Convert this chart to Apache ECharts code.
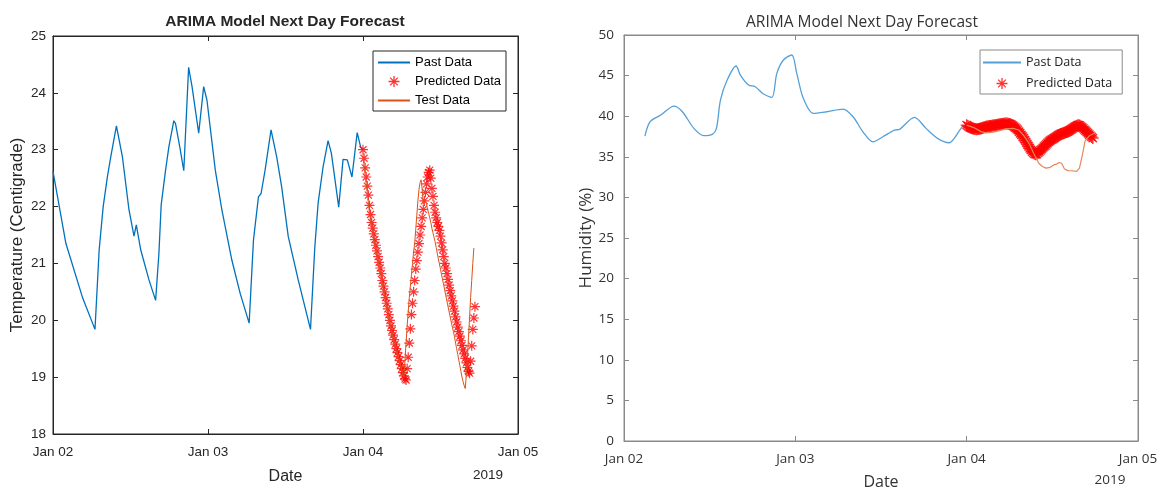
<!DOCTYPE html>
<html><head><meta charset="utf-8">
<script src="https://cdn.jsdelivr.net/npm/echarts/dist/echarts.min.js"></script>
<style>
html,body{margin:0;padding:0;background:#fff;width:1163px;height:488px;overflow:hidden}
#c1{position:absolute;left:0;top:0;width:575px;height:488px}
#c2{position:absolute;left:575px;top:0;width:588px;height:488px}
</style>
</head><body><div id="c1"></div><div id="c2"></div>
<script>
// ---------- shared labels ----------
const xTickLabels = ['Jan 02', 'Jan 03', 'Jan 04', 'Jan 05'];
const yearLabel = '2019';
const chartTitle = 'ARIMA Model Next Day Forecast';
const seriesNames = ['Past Data', 'Predicted Data', 'Test Data'];

// ---------- temperature chart (hours since Jan 02 00:00) ----------
const pastTempHours = [0, 2.0, 4.6, 6.5, 7.15, 7.77, 8.43, 8.95, 9.82, 10.74, 11.77, 12.54, 12.9, 13.58, 14.86, 15.89, 16.4, 16.75, 17.43, 17.94, 18.71, 18.97, 19.63, 20.25, 21.0, 21.53, 22.56, 23.33, 23.84, 25.13, 26.15, 27.69, 28.99, 30.37, 31.04, 31.81, 32.22, 32.84, 33.76, 34.63, 35.4, 36.43, 37.97, 39.87, 40.54, 41.05, 41.82, 42.59, 43.1, 44.24, 44.91, 45.57, 46.29, 47.1, 47.63, 48];
const pastTemp = [22.62, 21.35, 20.39, 19.84, 21.24, 22.0, 22.53, 22.88, 23.42, 22.88, 21.94, 21.48, 21.68, 21.24, 20.71, 20.35, 21.18, 22.03, 22.64, 23.05, 23.51, 23.46, 23.05, 22.63, 24.45, 24.11, 23.29, 24.11, 23.87, 22.64, 21.94, 21.06, 20.47, 19.95, 21.41, 22.17, 22.23, 22.64, 23.35, 22.88, 22.35, 21.47, 20.71, 19.84, 21.29, 22.06, 22.7, 23.16, 22.94, 21.99, 22.83, 22.82, 22.52, 23.3, 23.05, 23.0];

const forecastStartHour = 48;
const forecastStepHours = 1 / 6; // 10-minute samples

const predTemp = [23.00, 22.85, 22.68, 22.52, 22.36, 22.20, 22.02, 21.86, 21.72, 21.62,
  21.52, 21.42, 21.32, 21.22, 21.12, 21.02, 20.92, 20.82, 20.70, 20.60,
  20.50, 20.40, 20.30, 20.20, 20.10, 20.00, 19.90, 19.82, 19.74, 19.66,
  19.58, 19.50, 19.43, 19.36, 19.29, 19.22, 19.15, 19.08, 19.02, 18.97,
  18.95,
  19.15, 19.35, 19.60, 19.85, 20.10, 20.30, 20.50, 20.70, 20.90, 21.05,
  21.20, 21.35, 21.50, 21.65, 21.80, 21.95, 22.10, 22.25, 22.40, 22.52,
  22.60, 22.64,
  22.50, 22.32, 22.18, 22.02, 21.90, 21.80, 21.72, 21.65, 21.58, 21.48,
  21.36, 21.24, 21.12, 21.00, 20.92, 20.82, 20.72, 20.62, 20.52, 20.43,
  20.34, 20.25, 20.16, 20.06, 19.97, 19.88, 19.80, 19.72, 19.64, 19.56,
  19.48, 19.41, 19.33, 19.25, 19.17, 19.10, 19.07,
  19.28, 19.55, 19.84, 20.04, 20.24];

const testTemp = [22.90, 22.72, 22.56, 22.40, 22.24, 22.06, 21.90, 21.76, 21.64, 21.54,
  21.44, 21.34, 21.24, 21.14, 21.04, 20.94, 20.84, 20.72, 20.62, 20.52,
  20.42, 20.32, 20.22, 20.12, 20.02, 19.92, 19.84, 19.76, 19.68, 19.60,
  19.52, 19.45, 19.38, 19.31, 19.24, 19.17, 19.10, 19.04, 19.00,
  19.30, 19.60, 19.90, 20.15, 20.40, 20.60, 20.80, 21.00, 21.20, 21.35,
  21.60, 21.85, 22.10, 22.30, 22.42, 22.47, 22.30, 22.05, 22.12, 22.15,
  22.05, 21.95, 21.88, 21.80,
  21.72, 21.62, 21.54, 21.46, 21.38, 21.28, 21.18, 21.08, 20.99, 20.90,
  20.80, 20.71, 20.62, 20.52, 20.43, 20.33, 20.24, 20.15, 20.06, 19.97,
  19.88, 19.80, 19.71, 19.60, 19.50, 19.40, 19.30, 19.20, 19.10, 19.00,
  18.92, 18.85, 18.80,
  19.05, 19.35, 19.70, 20.05, 20.40, 20.70, 21.00, 21.27];

// ---------- humidity chart ----------
const pastHumHours = [2.93, 3.66, 5.15, 7.0, 8.18, 9.79, 11.19, 12.36, 12.95, 13.51, 14.45, 15.7, 16.3, 17.45, 18.39, 19.54, 20.71, 21.41, 22.33, 23.5, 24.2, 25.12, 26.5, 28.38, 30.69, 32.08, 33.47, 34.87, 36.26, 37.89, 38.59, 40.68, 42.31, 43.92, 45.55, 46.25, 47.4, 48.0];
const pastHum = [37.55, 39.32, 40.14, 41.25, 40.55, 38.5, 37.6, 37.76, 38.5, 41.99, 44.45, 46.18, 45.07, 43.84, 43.63, 42.73, 42.32, 45.28, 46.92, 47.54, 45.28, 42.2, 40.35, 40.55, 40.88, 39.93, 38.08, 36.85, 37.47, 38.29, 38.38, 39.86, 38.5, 37.27, 36.73, 37.27, 38.7, 38.9];

const predHum = [38.9, 38.8, 38.7, 38.6, 38.55, 38.5, 38.45, 38.42, 38.4, 38.4,
  38.42, 38.45, 38.5, 38.55, 38.6, 38.65, 38.7, 38.72, 38.75, 38.78,
  38.8, 38.82, 38.85, 38.88, 38.9, 38.92, 38.95, 38.98, 39.0, 39.03,
  39.05, 39.08, 39.1, 39.1, 39.1, 39.08, 39.05, 39.0, 38.92, 38.82,
  38.7, 38.58, 38.45, 38.3, 38.1, 37.9, 37.7, 37.5, 37.3, 37.05,
  36.8, 36.55, 36.3, 36.05, 35.85, 35.65, 35.5, 35.38, 35.3, 35.35,
  35.5, 35.65, 35.8, 35.95, 36.1, 36.25, 36.4, 36.55, 36.7, 36.85,
  36.97, 37.08, 37.15, 37.25, 37.35, 37.45, 37.55, 37.65, 37.72, 37.8,
  37.85, 37.9, 37.95, 38.0, 38.05, 38.1, 38.2, 38.3, 38.4, 38.5,
  38.6, 38.7, 38.78, 38.85, 38.88, 38.85, 38.75, 38.62, 38.5, 38.35,
  38.2, 38.05, 37.9, 37.75, 37.6, 37.45, 37.3];

const testHumHours = [48.0, 49.0, 50.0, 50.7, 51.5, 52.5, 53.5, 54.5, 55.3, 56.0, 56.7, 57.4, 58.1, 58.6, 59.1, 59.7, 60.2, 60.6, 60.95, 61.3, 61.5, 61.7, 62.2, 62.7, 63.4, 63.8, 64.2, 64.6, 65.2, 65.9];
const testHum = [38.9, 38.6, 38.1, 37.95, 38.0, 38.2, 38.45, 38.5, 38.3, 37.6, 36.7, 35.4, 34.2, 33.8, 33.6, 33.7, 34.0, 34.1, 34.3, 34.2, 34.35, 33.5, 33.3, 33.28, 33.2, 33.6, 35.2, 37.0, 37.6, 37.9];

// ---------- helpers ----------
const zip = (xs, ys) => xs.map((x, i) => [x, ys[i]]);
const stepped = (start, step, ys) => ys.map((y, i) => [start + i * step, y]);
const STAR = 'path://M44 0L56 0L56 100L44 100Z M0 44L100 44L100 56L0 56Z M10.8 19.2L19.2 10.8L89.2 80.8L80.8 89.2Z M80.8 10.8L89.2 19.2L19.2 89.2L10.8 80.8Z';
const xFmt = v => xTickLabels[Math.round(v / 24)] || '';

function makeOption(cfg) {
  const axisLine = { show: true, onZero: false, lineStyle: { color: cfg.axisColor, width: 1 } };
  const tick = { show: true, inside: true, length: 5, lineStyle: { color: cfg.axisColor } };
  const xBase = { type: 'value', min: 0, max: 72, interval: 24, splitLine: { show: false }, axisLine, axisTick: tick };
  const yBase = { type: 'value', min: cfg.yMin, max: cfg.yMax, interval: cfg.yInterval, splitLine: { show: false }, axisLine, axisTick: tick };
  const lineItem = n => ({ name: n, itemStyle: { opacity: 0 } });
  return {
    animation: false,
    backgroundColor: '#fff',
    textStyle: { fontFamily: cfg.font },
    grid: { left: cfg.grid.left, top: cfg.grid.top, width: cfg.grid.width, height: cfg.grid.height, containLabel: false, outerBoundsMode: 'none',
      show: true, borderColor: cfg.axisColor, borderWidth: 1, backgroundColor: 'transparent' },
    xAxis: [
      Object.assign({}, xBase, {
        position: 'bottom',
        name: 'Date', nameLocation: 'middle', nameGap: cfg.xNameGap, nameMoveOverlap: false,
        nameTextStyle: { fontFamily: cfg.font, fontSize: cfg.nameSize, color: cfg.textColor },
        axisLabel: { show: true, formatter: xFmt, margin: cfg.xLabelMargin, fontFamily: cfg.font, fontSize: cfg.tickSize, color: cfg.textColor, showMinLabel: true, showMaxLabel: true, hideOverlap: false }
      }),
      Object.assign({}, xBase, { position: 'top', axisLabel: { show: false } })
    ],
    yAxis: [
      Object.assign({}, yBase, {
        position: 'left',
        name: cfg.yName, nameLocation: 'middle', nameGap: cfg.yNameGap, nameMoveOverlap: false,
        nameTextStyle: { fontFamily: cfg.font, fontSize: cfg.yNameSize, color: cfg.textColor },
        axisLabel: { show: true, margin: cfg.yLabelMargin, fontFamily: cfg.font, fontSize: cfg.tickSize, color: cfg.textColor, showMinLabel: true, showMaxLabel: true }
      }),
      Object.assign({}, yBase, { position: 'right', axisLabel: { show: false } })
    ],
    legend: {
      orient: 'vertical', left: cfg.legend.left, top: cfg.legend.top, padding: cfg.legend.padding,
      itemWidth: cfg.legend.itemWidth, itemHeight: 11, itemGap: cfg.legend.itemGap,
      backgroundColor: '#fff', borderColor: cfg.legend.borderColor, borderWidth: 1, borderRadius: 0,
      selectedMode: false, symbolKeepAspect: true,
      textStyle: { fontFamily: cfg.font, fontSize: cfg.legend.fontSize, color: cfg.legend.textColor },
      data: cfg.legend.names.map(n => n === seriesNames[1] ? { name: n } : lineItem(n))
    },
    graphic: [
      { type: 'text', x: cfg.title.x, y: cfg.title.y, z: 100, style: { text: chartTitle, fontFamily: cfg.font, fontSize: cfg.title.size, fontWeight: cfg.title.weight, fill: cfg.textColor, textAlign: 'center', textVerticalAlign: 'middle' } },
      { type: 'text', x: cfg.year.x, y: cfg.year.y, z: 100, style: { text: yearLabel, fontFamily: cfg.font, fontSize: cfg.tickSize, fill: cfg.textColor, textAlign: 'center', textVerticalAlign: 'middle' } }
    ],
    series: cfg.series
  };
}

// ---------- left chart ----------
const c1 = echarts.init(document.getElementById('c1'), null, { renderer: 'canvas' });
c1.setOption(makeOption({
  font: '"Liberation Sans", Arial, sans-serif',
  axisColor: '#262626', textColor: '#262626',
  grid: { left: 53, top: 36, width: 465, height: 398 },
  yMin: 18, yMax: 25, yInterval: 1, yName: 'Temperature (Centigrade)',
  tickSize: 13.5, nameSize: 16, yNameSize: 17, xLabelMargin: 11, yLabelMargin: 7, xNameGap: 35, yNameGap: 27,
  title: { x: 285, y: 21.5, size: 15.5, weight: 'bold' },
  year: { x: 488, y: 475 },
  legend: { left: 373, top: 51, padding: [5, 5, 4, 4], itemWidth: 32, itemGap: 6, fontSize: 13, textColor: '#000', borderColor: '#262626',
    names: seriesNames },
  series: [
    { name: seriesNames[0], type: 'line', data: zip(pastTempHours, pastTemp), symbol: 'none', lineStyle: { color: '#0072BD', width: 1.3 }, itemStyle: { color: '#0072BD' }, z: 2 },
    { name: seriesNames[1], type: 'scatter', data: stepped(forecastStartHour, forecastStepHours, predTemp), symbol: STAR, symbolSize: 10, symbolKeepAspect: true, itemStyle: { color: '#FF0000' }, z: 3 },
    { name: seriesNames[2], type: 'line', data: stepped(forecastStartHour, forecastStepHours, testTemp), symbol: 'none', lineStyle: { color: '#D95319', width: 1 }, itemStyle: { color: '#D95319' }, z: 4 }
  ]
}));

// ---------- right chart ----------
const c2 = echarts.init(document.getElementById('c2'), null, { renderer: 'canvas' });
c2.setOption(makeOption({
  font: '"Open Sans", "Noto Sans", sans-serif',
  axisColor: '#8a8a8a', textColor: '#333333',
  grid: { left: 49, top: 35, width: 514, height: 406 },
  yMin: 0, yMax: 50, yInterval: 5, yName: 'Humidity (%)',
  tickSize: 13.5, nameSize: 16, yNameSize: 17, xLabelMargin: 11, yLabelMargin: 10, xNameGap: 33, yNameGap: 29,
  title: { x: 287, y: 23, size: 15.5, weight: 'normal' },
  year: { x: 535, y: 480 },
  legend: { left: 405, top: 50, padding: [6, 10, 4, 2], itemWidth: 38, itemGap: 8, fontSize: 12.5, textColor: '#222', borderColor: '#8a8a8a',
    names: seriesNames.slice(0, 2) },
  series: [
    { name: seriesNames[0], type: 'line', data: zip(pastHumHours, pastHum), symbol: 'none', smooth: 0.3, lineStyle: { color: '#55A0D8', width: 1.3 }, itemStyle: { color: '#55A0D8' }, z: 2 },
    { name: seriesNames[1], type: 'scatter', data: stepped(forecastStartHour, forecastStepHours, predHum), symbol: STAR, symbolSize: 12, symbolKeepAspect: true, itemStyle: { color: '#FF0000' }, z: 3 },
    { name: seriesNames[2], type: 'line', data: zip(testHumHours, testHum), symbol: 'none', lineStyle: { color: '#E4885C', width: 1.2 }, itemStyle: { color: '#E4885C' }, z: 4 }
  ]
}));
</script>
</body></html>
